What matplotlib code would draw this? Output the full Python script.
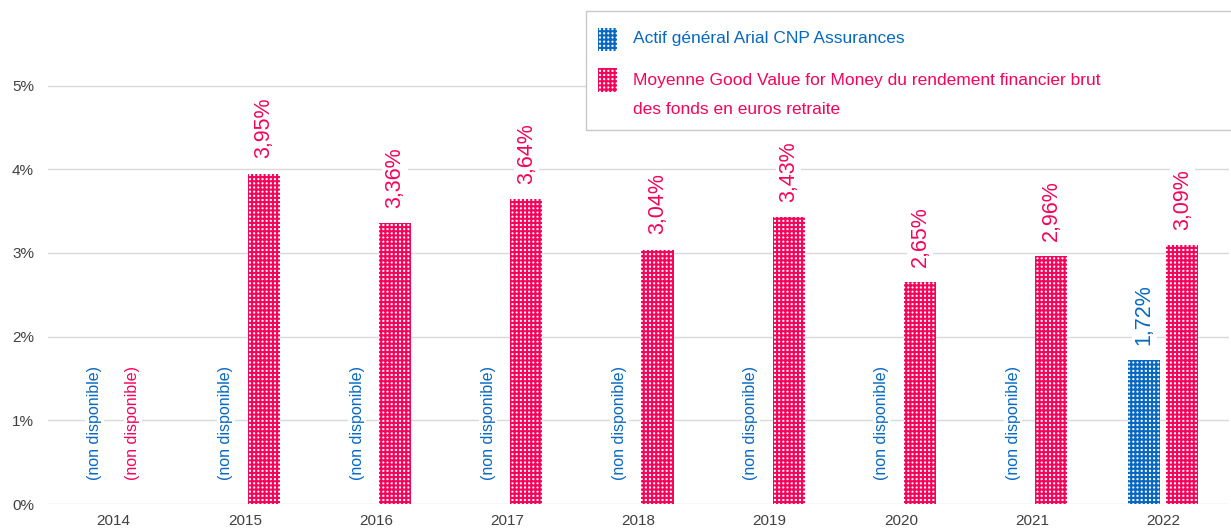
import matplotlib.pyplot as plt
import matplotlib.patches as mpatches
import numpy as np

plt.rcParams['font.family'] = ['Liberation Sans', 'DejaVu Sans']
plt.rcParams['hatch.linewidth'] = 1.5

# Data
years = ['2014', '2015', '2016', '2017', '2018', '2019', '2020', '2021', '2022']
actif_general = [None, None, None, None, None, None, None, None, 1.72]
moyenne_gvfm = [None, 3.95, 3.36, 3.64, 3.04, 3.43, 2.65, 2.96, 3.09]
series_names = ['Actif général Arial CNP Assurances',
                'Moyenne Good Value for Money du rendement financier brut\ndes fonds en euros retraite']

BLUE = '#0868C0'
PINK = '#F50459'
W, H = 1231, 529

fig = plt.figure(figsize=(12.31, 5.29), dpi=100)
ax = fig.add_axes([48 / W, 1 - 504 / H, 1181 / W, 502 / H])

x = np.arange(len(years))
width = 0.245
offset = 0.145


def draw_series(vals, pos, color):
    for xi, v in zip(pos, vals):
        if v is None:
            ax.annotate('(non disponible)', xy=(xi, 0), xytext=(0, 17),
                        textcoords='offset points', rotation=90,
                        ha='center', va='bottom', fontsize=11.5, color=color,
                        bbox=dict(boxstyle='square,pad=0.1', fc='white', ec='none'))
        else:
            # white squares on a coloured grid
            ax.bar(xi, v, width, facecolor='white', edgecolor=color,
                   linewidth=0, hatch='++++', zorder=2)
            ax.annotate(f'{v:.2f}%'.replace('.', ','), xy=(xi, v), xytext=(0, 11),
                        textcoords='offset points', rotation=90,
                        ha='center', va='bottom', fontsize=15.5, color=color,
                        bbox=dict(boxstyle='square,pad=0.1', fc='white', ec='none'),
                        zorder=3)


draw_series(actif_general, x - offset, BLUE)
draw_series(moyenne_gvfm, x + offset, PINK)

ax.set_xlim(-0.5, len(years) - 0.5)
ax.set_ylim(0, 6)
ax.set_yticks(range(0, 6))
ax.set_yticklabels([f'{i}%' for i in range(0, 6)])
ax.set_xticks(x)
ax.set_xticklabels(years)
ax.tick_params(axis='both', length=0, labelsize=11, labelcolor='#404040')
ax.tick_params(axis='y', pad=10)
ax.tick_params(axis='x', pad=7)
ax.grid(axis='y', color='#d9d9d9', linewidth=1, zorder=0)
ax.set_axisbelow(True)
for s in ax.spines.values():
    s.set_visible(False)

# Legend box drawn by hand
def fx(px):
    return px / W


def fy(py):
    return 1 - py / H


fig.patches.append(mpatches.Rectangle((fx(586), fy(130)), fx(660), 119 / H,
                                      transform=fig.transFigure, fc='white',
                                      ec='#c8c8c8', lw=1, zorder=5))
fig.patches.append(mpatches.Rectangle((fx(598), fy(51)), fx(19), 23 / H,
                                      transform=fig.transFigure, fc='white',
                                      ec=BLUE, lw=0, hatch='++++', zorder=6))
fig.patches.append(mpatches.Rectangle((fx(598), fy(92)), fx(19), 24 / H,
                                      transform=fig.transFigure, fc='white',
                                      ec=PINK, lw=0, hatch='++++', zorder=6))
fig.text(fx(633), fy(38), series_names[0], color=BLUE, fontsize=12.5,
         va='center', ha='left', zorder=7)
fig.text(fx(633), fy(80), series_names[1].split('\n')[0], color=PINK, fontsize=12.5,
         va='center', ha='left', zorder=7)
fig.text(fx(633), fy(110), series_names[1].split('\n')[1], color=PINK, fontsize=12.5,
         va='center', ha='left', zorder=7)

fig.savefig('out.png', dpi=100)
